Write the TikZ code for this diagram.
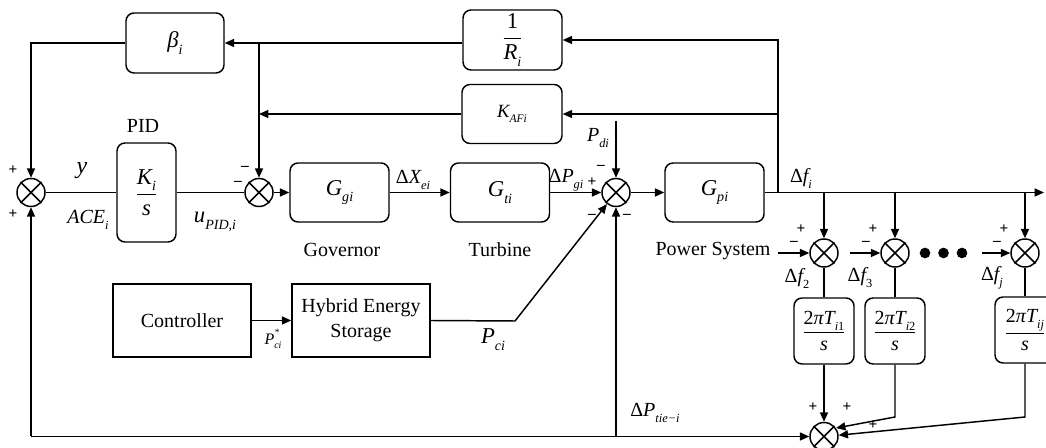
\documentclass[tikz,border=0pt]{standalone}
\usepackage{fontspec}
\usepackage{graphicx}
\setmainfont{Liberation Serif}
\usetikzlibrary{arrows.meta}
\newcommand{\sbs}[1]{\raisebox{-0.3em}{\scalebox{0.62}{\itshape #1}}}
\newcommand{\fsz}[1]{\fontsize{#1}{#1}\selectfont}
\begin{document}
\begin{tikzpicture}[x=0.75pt,y=-0.75pt, line width=1.1pt,
 blk/.style={draw, rounded corners=6pt, inner sep=0pt, font={\fsz{17}\itshape}},
 hb/.style={minimum width=74.25pt, minimum height=44.25pt},
 sq/.style={draw, inner sep=0pt, align=center, minimum width=103.5pt, minimum height=54.75pt, font={\fontsize{15}{19}\selectfont}},
 sumj/.style={draw, circle, minimum size=21pt, inner sep=0pt},
 lab/.style={inner sep=0pt, font={\fsz{15}\itshape}},
 word/.style={inner sep=0pt, font={\fsz{15}}},
 sgn/.style={inner sep=0pt, text height=5.5pt, text depth=0pt, font={\fsz{11.5}\bfseries}},
 arr/.style={-{Triangle[length=7pt,width=6pt]}},
 dot/.style={circle, fill, minimum size=8pt, inner sep=0pt}]
\useasboundingbox (0,0) rectangle (1046,448);

% blocks
\node[blk, minimum width=73.5pt, minimum height=45pt] (beta) at (175,43) {β\sbs{i}};
\node[blk, minimum width=74.25pt, minimum height=45pt] (invR) at (512.5,40) {$\displaystyle\frac{\mbox{\upshape 1}}{\mbox{R\sbs{i}}}$};
\node[blk, minimum width=75pt, minimum height=44.25pt, font={\fsz{14}\itshape}] (kaf) at (512,114) {K\sbs{AFi}};
\node[blk, minimum width=44.25pt, minimum height=74.25pt] (ki) at (146.5,192.5) {$\displaystyle\frac{\mbox{K\sbs{i}}}{\mbox{s}}$};
\node[blk, hb] (ggi) at (339.5,192.5) {G\sbs{gi}};
\node[blk, hb] (gti) at (500,192.5) {G\sbs{ti}};
\node[blk, hb] (gpi) at (714.5,192.5) {G\sbs{pi}};
\node[sq] (ctrl) at (182,320.5) {Controller};
\node[sq] (hes) at (361,320.5) {Hybrid Energy\\Storage};
\node[blk, minimum width=45pt, minimum height=49.5pt, font={\fsz{15}\itshape}] (t1) at (824,331) {$\displaystyle\frac{\mbox{\upshape 2\itshape πT\sbs{i\upshape 1}}}{\mbox{s}}$};
\node[blk, minimum width=45pt, minimum height=49.5pt, font={\fsz{15}\itshape}] (t2) at (895,331) {$\displaystyle\frac{\mbox{\upshape 2\itshape πT\sbs{i\upshape 2}}}{\mbox{s}}$};
\node[blk, minimum width=45pt, minimum height=49.5pt, font={\fsz{15}\itshape}] (t3) at (1025,330) {$\displaystyle\frac{\mbox{\upshape 2\itshape πT\sbs{ij}}}{\mbox{s}}$};

% summing junctions
\node[sumj] (s1) at (31,192.5) {};
\node[sumj] (s2) at (259,192.5) {};
\node[sumj] (s3) at (616,192.5) {};
\node[sumj] (s4) at (824,253) {};
\node[sumj] (s5) at (895,253) {};
\node[sumj] (s6) at (1025,253) {};
\node[sumj] (sb) at (824,436.5) {};
\foreach \s in {s1,s2,s3,s4,s5,s6,sb}{
  \draw (\s.north west) -- (\s.south east) (\s.north east) -- (\s.south west);
}

% dots
\node[dot] (d1) at (925,253) {};
\node[dot] (d2) at (943.5,253) {};
\node[dot] (d3) at (962,253) {};

% coordinates
\coordinate (fo) at (1044,192.5);
\coordinate (j0) at (778,192.5);
\coordinate (pd) at (616,121);
\coordinate (hk) at (515,321);
\coordinate (bl) at (31,436.5);
\coordinate (ps) at (778,253);
\coordinate (pa3) at (850,253);
\coordinate (pa6) at (982,253);
\coordinate (k2) at (895,417);
\coordinate (k3) at (1025,417);

% connectors
\draw[arr] (gpi.east) -- (fo);
\draw[arr] (j0) |- (invR.east);
\draw[arr] (j0 |- kaf.east) -- (kaf.east);
\draw[arr] (invR.west |- beta.east) -- (beta.east);
\draw[arr] (s2 |- beta.east) -- (s2.north);
\draw[arr] (kaf.west) -- (s2 |- kaf.west);
\draw[arr] (beta.west) -| (s1.north);
\draw (s1.east) -- (ki.west);
\draw (ki.east) -- (s2.west);
\draw[arr] (s2.east) -- (ggi.west);
\draw[arr] (ggi.east) -- (gti.west);
\draw[arr] (gti.east) -- (s3.west);
\draw[arr] (s3.east) -- (gpi.west);
\draw[arr] (pd) -- (s3.north);
\draw[arr] (ctrl.east) -- (hes.west);
\draw[arr] (hes.east) -- (hk) -- (s3);
\draw[arr] (bl) -- (s1.south);
\draw[arr] (bl) -- (sb.west);
\draw[arr] (s3 |- bl) -- (s3.south);
\draw[arr] (s4 |- gpi.east) -- (s4.north);
\draw[arr] (s5 |- gpi.east) -- (s5.north);
\draw[arr] (s6 |- gpi.east) -- (s6.north);
\draw[arr] (ps) -- (s4.west);
\draw[arr] (pa3) -- (s5.west);
\draw[arr] (pa6) -- (s6.west);
\draw (s4.south) -- (t1.north);
\draw (s5.south) -- (t2.north);
\draw (s6.south) -- (t3.north);
\draw[arr] (t1.south) -- (sb.north);
\draw[arr] (t2.south) -- (k2) -- (sb.35);
\draw[arr] (t3.south) -- (k3) -- (sb.5);

% labels
\node[word] (pidl) at (143,126) {PID};
\node[lab, font={\fsz{18}\itshape}] (yl) at (82,171) {y};
\node[lab] (acel) at (88,220) {ACE\sbs{i}};
\node[lab, font={\fsz{17}\itshape}] (ul) at (215,222) {u\sbs{PID,i}};
\node[lab] (dxl) at (413,180) {{\upshape Δ}X\sbs{ei}};
\node[lab] (dpgl) at (566,180) {{\upshape Δ}P\sbs{gi}};
\node[lab] (pdl) at (598,138) {P\sbs{di}};
\node[lab] (dfil) at (801,178) {{\upshape Δ}f\sbs{i}};
\node[word] (govl) at (342,250) {Governor};
\node[word] (turl) at (500,250) {Turbine};
\node[word] (psl) at (713,251) {Power System};
\node[lab] (df2) at (797,278) {{\upshape Δ}f\sbs{\upshape 2}};
\node[lab] (df3) at (860,278) {{\upshape Δ}f\sbs{\upshape 3}};
\node[lab] (dfj) at (992,278) {{\upshape Δ}f\sbs{j}};
\node[lab, font={\fsz{12}\itshape}] (pcs) at (273,339) {P\rlap{\raisebox{0.55em}{\scalebox{0.6}{*}}}\sbs{ci}};
\node[lab, font={\fsz{17}\itshape}] (pcl) at (493,340) {P\sbs{ci}};
\node[lab] (dptl) at (655,413) {{\upshape Δ}P\sbs{tie−i}};

% signs
\node[sgn] (g1) at (13,171) {+};
\node[sgn] (g2) at (13,215) {+};
\node[sgn] (g3) at (245,167) {–};
\node[sgn] (g4) at (238,182) {–};
\node[sgn] (g5) at (592,183) {+};
\node[sgn] (g6) at (601,166) {–};
\node[sgn] (g7) at (592,215) {–};
\node[sgn] (g8) at (627,215) {–};
\node[sgn] (g9) at (801,230) {+};
\node[sgn] (g10) at (794,242) {–};
\node[sgn] (g11) at (873,230) {+};
\node[sgn] (g12) at (866,242) {–};
\node[sgn] (g13) at (1004,230) {+};
\node[sgn] (g14) at (997,242) {–};
\node[sgn] (g15) at (813,408) {+};
\node[sgn] (g16) at (847,408) {+};
\node[sgn] (g17) at (873,426) {+};
\end{tikzpicture}
\end{document}
